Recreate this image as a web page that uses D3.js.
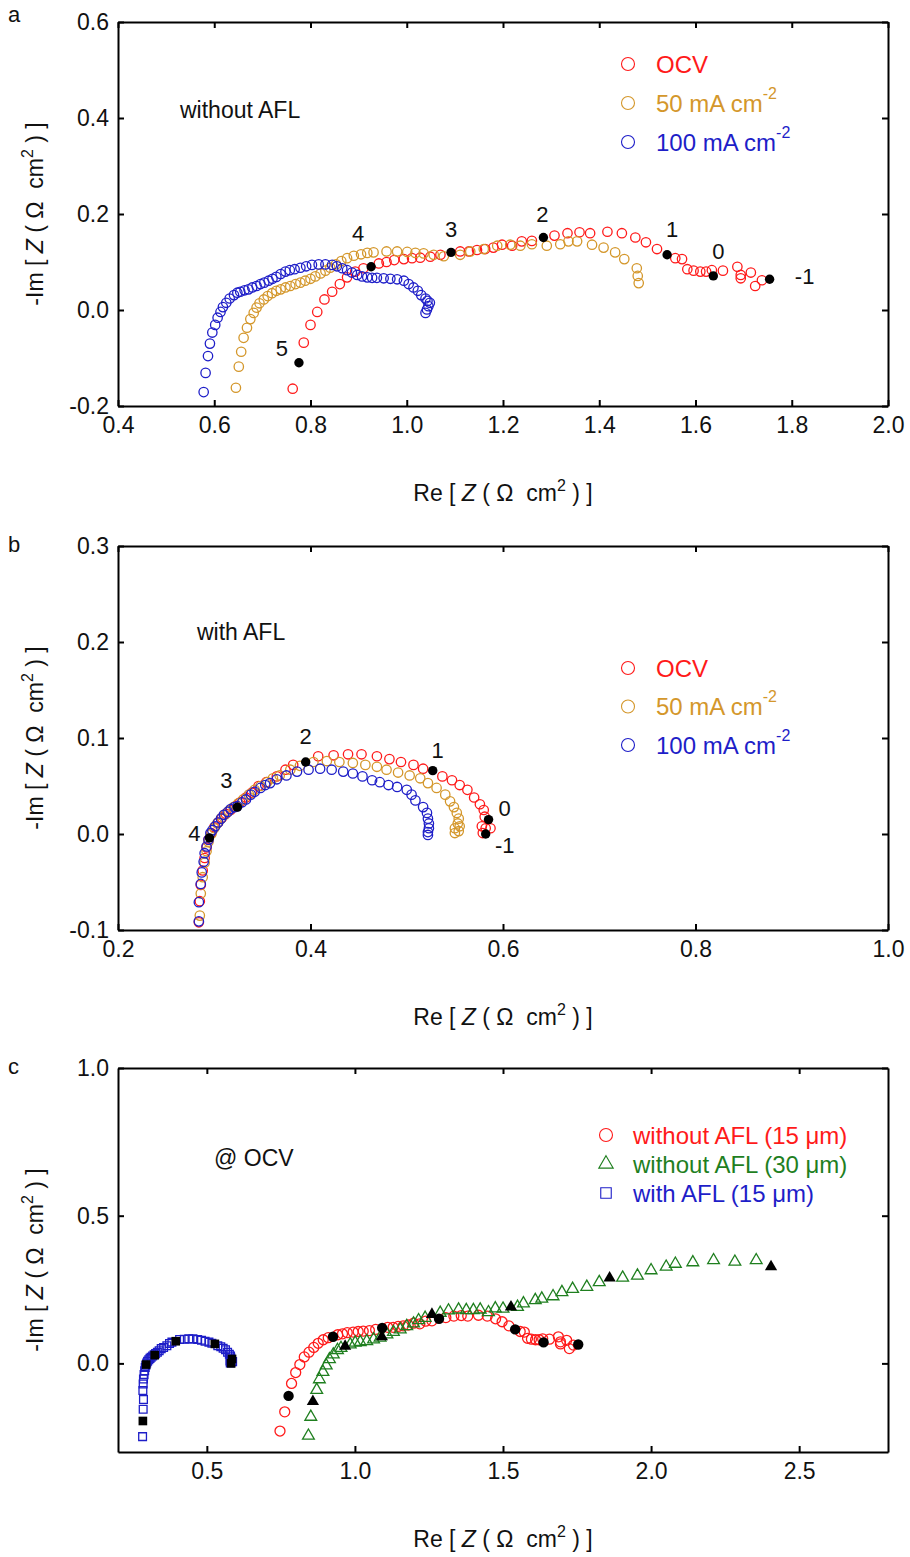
<!DOCTYPE html>
<html>
<head>
<meta charset="utf-8">
<script src="https://cdn.jsdelivr.net/npm/d3@7"></script>
<style>
  body { margin: 0; background: #fff; }
  svg { font-family: "Liberation Sans", Arial, sans-serif; }
  text { white-space: pre; }
</style>
</head>
<body>
<div id="chart"></div>
<script>
// ---- data: [Re Z, -Im Z] in ohm cm2 ----
// without AFL (15 um), OCV
const ocvNoAfl = [[0.747,-0.229],[0.763,-0.164],[0.786,-0.068],[0.800,-0.031],[0.814,-0.004],[0.829,0.022],[0.845,0.038],[0.861,0.054],[0.876,0.068],[0.893,0.080],[0.910,0.087],[0.942,0.097],[0.958,0.100],[0.974,0.104],[0.994,0.106],[1.011,0.108],[1.028,0.109],[1.049,0.111],[1.070,0.115],[1.111,0.122],[1.129,0.122],[1.146,0.125],[1.163,0.127],[1.180,0.130],[1.198,0.136],[1.219,0.134],[1.239,0.143],[1.260,0.144],[1.307,0.155],[1.334,0.160],[1.359,0.162],[1.381,0.160],[1.417,0.163],[1.447,0.160],[1.475,0.151],[1.497,0.141],[1.520,0.127],[1.558,0.108],[1.572,0.106],[1.583,0.085],[1.596,0.082],[1.610,0.080],[1.622,0.080],[1.634,0.083],[1.657,0.082],[1.687,0.090],[1.694,0.073],[1.694,0.066],[1.715,0.078],[1.724,0.050],[1.738,0.062]];
const ma50NoAfl = [[0.645,-0.162],[0.651,-0.118],[0.656,-0.087],[0.661,-0.058],[0.668,-0.037],[0.675,-0.019],[0.682,-0.006],[0.688,0.005],[0.694,0.014],[0.703,0.022],[0.711,0.029],[0.720,0.035],[0.729,0.040],[0.738,0.043],[0.748,0.047],[0.758,0.050],[0.769,0.054],[0.779,0.057],[0.789,0.061],[0.800,0.065],[0.810,0.070],[0.821,0.076],[0.831,0.082],[0.841,0.088],[0.853,0.095],[0.864,0.102],[0.876,0.108],[0.890,0.113],[0.905,0.116],[0.918,0.119],[0.931,0.120],[0.958,0.122],[0.980,0.122],[1.001,0.121],[1.018,0.119],[1.035,0.118],[1.056,0.115],[1.077,0.112],[1.111,0.115],[1.132,0.122],[1.160,0.127],[1.188,0.134],[1.215,0.136],[1.236,0.134],[1.260,0.137],[1.291,0.134],[1.319,0.137],[1.336,0.143],[1.354,0.143],[1.385,0.136],[1.409,0.130],[1.433,0.120],[1.452,0.106],[1.478,0.087],[1.480,0.071],[1.482,0.056]];
const ma100NoAfl = [[0.578,-0.171],[0.582,-0.131],[0.587,-0.096],[0.591,-0.070],[0.596,-0.047],[0.602,-0.031],[0.607,-0.016],[0.613,-0.004],[0.618,0.006],[0.625,0.015],[0.632,0.024],[0.641,0.031],[0.648,0.036],[0.654,0.038],[0.663,0.041],[0.671,0.043],[0.679,0.047],[0.688,0.050],[0.696,0.054],[0.704,0.057],[0.713,0.061],[0.721,0.065],[0.729,0.069],[0.738,0.075],[0.748,0.080],[0.757,0.083],[0.767,0.085],[0.779,0.088],[0.791,0.091],[0.803,0.094],[0.817,0.095],[0.831,0.095],[0.845,0.094],[0.855,0.091],[0.866,0.087],[0.876,0.083],[0.886,0.078],[0.897,0.073],[0.907,0.070],[0.918,0.068],[0.928,0.067],[0.938,0.067],[0.952,0.066],[0.966,0.065],[0.980,0.064],[0.994,0.061],[1.004,0.054],[1.014,0.047],[1.023,0.040],[1.030,0.031],[1.039,0.024],[1.043,0.019],[1.048,0.015],[1.045,0.008],[1.042,0.001],[1.039,-0.006]];
// with AFL (15 um)
const ocvAfl = [[0.283,-0.248],[0.285,-0.155],[0.286,-0.122],[0.284,-0.092],[0.285,-0.070],[0.286,-0.053],[0.288,-0.038],[0.290,-0.025],[0.292,-0.014],[0.294,-0.006],[0.297,0.001],[0.300,0.007],[0.304,0.012],[0.308,0.017],[0.312,0.021],[0.317,0.025],[0.322,0.029],[0.327,0.033],[0.333,0.038],[0.339,0.043],[0.346,0.050],[0.354,0.054],[0.365,0.060],[0.374,0.067],[0.382,0.072],[0.408,0.081],[0.424,0.082],[0.439,0.083],[0.453,0.083],[0.469,0.081],[0.482,0.078],[0.494,0.075],[0.507,0.072],[0.517,0.068],[0.537,0.060],[0.547,0.056],[0.555,0.051],[0.563,0.046],[0.570,0.038],[0.576,0.031],[0.580,0.025],[0.581,0.018],[0.578,0.008],[0.582,0.006],[0.587,0.006],[0.579,0.001]];
const ma50Afl = [[0.285,-0.085],[0.286,-0.062],[0.288,-0.045],[0.290,-0.030],[0.292,-0.018],[0.294,-0.008],[0.297,0.000],[0.300,0.006],[0.303,0.011],[0.307,0.016],[0.311,0.020],[0.315,0.024],[0.320,0.028],[0.325,0.032],[0.330,0.036],[0.336,0.041],[0.342,0.046],[0.348,0.050],[0.355,0.054],[0.361,0.058],[0.368,0.061],[0.379,0.067],[0.389,0.071],[0.403,0.075],[0.417,0.076],[0.430,0.075],[0.444,0.074],[0.457,0.072],[0.469,0.070],[0.479,0.067],[0.491,0.064],[0.503,0.061],[0.514,0.058],[0.522,0.053],[0.531,0.048],[0.540,0.041],[0.545,0.034],[0.549,0.028],[0.552,0.022],[0.554,0.016],[0.553,0.011],[0.555,0.008],[0.550,0.006],[0.554,0.003],[0.550,0.001]];
const ma100Afl = [[0.284,-0.091],[0.284,-0.071],[0.286,-0.052],[0.287,-0.040],[0.289,-0.029],[0.290,-0.020],[0.292,-0.013],[0.294,-0.006],[0.296,0.001],[0.298,0.004],[0.301,0.008],[0.304,0.012],[0.307,0.016],[0.310,0.020],[0.314,0.023],[0.317,0.026],[0.321,0.028],[0.324,0.029],[0.329,0.033],[0.333,0.036],[0.338,0.041],[0.342,0.044],[0.348,0.048],[0.353,0.051],[0.358,0.053],[0.365,0.057],[0.375,0.061],[0.386,0.065],[0.398,0.067],[0.410,0.068],[0.422,0.067],[0.434,0.065],[0.444,0.063],[0.454,0.060],[0.464,0.056],[0.472,0.054],[0.481,0.051],[0.490,0.049],[0.500,0.046],[0.505,0.041],[0.509,0.035],[0.517,0.028],[0.521,0.022],[0.522,0.016],[0.523,0.011],[0.523,0.006],[0.522,0.002],[0.522,-0.001]];
// without AFL (30 um), OCV
const ocvNoAfl30 = [[0.843,-0.245],[0.851,-0.181],[0.871,-0.090],[0.880,-0.054],[0.892,-0.029],[0.903,-0.007],[0.914,0.014],[0.927,0.030],[0.941,0.045],[0.953,0.052],[0.984,0.064],[1.001,0.070],[1.018,0.072],[1.040,0.075],[1.063,0.081],[1.085,0.087],[1.108,0.098],[1.130,0.106],[1.153,0.115],[1.175,0.126],[1.198,0.135],[1.215,0.146],[1.237,0.154],[1.288,0.171],[1.316,0.179],[1.350,0.182],[1.376,0.180],[1.400,0.180],[1.423,0.182],[1.451,0.173],[1.474,0.186],[1.500,0.185],[1.549,0.191],[1.569,0.203],[1.609,0.214],[1.631,0.219],[1.669,0.227],[1.699,0.241],[1.735,0.252],[1.783,0.259],[1.825,0.275],[1.904,0.290],[1.954,0.297],[2.000,0.315],[2.051,0.327],[2.082,0.337],[2.141,0.342],[2.211,0.349],[2.283,0.344],[2.355,0.349]];

// frequency decade points (log f = 5 ... -1), drawn black
const decadeLabels = ["5", "4", "3", "2", "1", "0", "-1"];
const decNoAfl = [[0.776,-0.110],[0.926,0.090],[1.092,0.120],[1.284,0.151],[1.541,0.115],[1.637,0.071],[1.754,0.064]];
const decAfl = [[0.284,-0.195],[0.295,-0.004],[0.324,0.028],[0.395,0.075],[0.527,0.066],[0.585,0.015],[0.582,0.000]];
const decNoAfl30 = [[0.858,-0.129],[0.967,0.058],[1.091,0.090],[1.260,0.166],[1.527,0.191],[1.860,0.289],[2.405,0.327]];

// axis ticks
const xTicksA = [0.4, 0.6, 0.8, 1.0, 1.2, 1.4, 1.6, 1.8, 2.0];
const yTicksA = [-0.2, 0.0, 0.2, 0.4, 0.6];
const xTicksB = [0.2, 0.4, 0.6, 0.8, 1.0];
const yTicksB = [-0.1, 0.0, 0.1, 0.2, 0.3];
const xTicksC = [0.5, 1.0, 1.5, 2.0, 2.5];
const yTicksC = [0.0, 0.5, 1.0];

const RED = "#ff1a1a", ORANGE = "#d4972b", BLUE = "#1e1ec8", GREEN = "#1f7f1f";

const width = 910, height = 1557;
const left = 118, plotW = 770, plotH = 384;

const svg = d3.select("#chart").append("svg")
    .attr("width", width)
    .attr("height", height);

// "Re [ Z ( Ω  cm2 ) ]" with italic Z and superscript 2
function zTitle(sel, prefix) {
    sel.append("tspan").text(prefix + " [ ");
    sel.append("tspan").attr("font-style", "italic").text("Z");
    sel.append("tspan").text(" ( \u03A9  cm");
    sel.append("tspan").attr("font-size", 16).attr("dy", -10).text("2");
    sel.append("tspan").attr("dy", 10).text(" ) ]");
}

const fmt = d => d.toFixed(1);

function drawPanel(p, idx) {
    const g = svg.append("g").attr("transform", "translate(" + left + "," + p.top + ")");
    const x = d3.scaleLinear().domain(p.xDomain).range([0, plotW]);
    const y = d3.scaleLinear().domain(p.yDomain).range([plotH, 0]);

    const clipId = "clip" + idx;
    g.append("clipPath").attr("id", clipId)
        .append("rect").attr("width", plotW).attr("height", plotH);

    // frame with inward ticks on all sides
    const axes = [
        [d3.axisBottom(x).tickValues(p.xTicks).tickFormat(fmt).tickPadding(11), "translate(0," + plotH + ")"],
        [d3.axisLeft(y).tickValues(p.yTicks).tickFormat(fmt).tickPadding(9), null],
        [d3.axisTop(x).tickValues(p.xTicks).tickFormat(""), null],
        [d3.axisRight(y).tickValues(p.yTicks).tickFormat(""), "translate(" + plotW + ",0)"]
    ];
    axes.forEach(([ax, tr]) => {
        const a = g.append("g").call(ax.tickSizeInner(-6).tickSizeOuter(0));
        if (tr) a.attr("transform", tr);
        a.select(".domain").attr("stroke-width", 2);
        a.selectAll(".tick line").attr("stroke-width", 2);
        a.selectAll(".tick text").attr("font-size", 23).attr("fill", "#111")
            .attr("font-family", "\"Liberation Sans\", Arial, sans-serif");
    });

    const plot = g.append("g").attr("clip-path", "url(#" + clipId + ")");

    p.series.forEach(s => {
        if (s.shape === "circle") {
            plot.append("g").selectAll("circle")
                .data(s.data).enter().append("circle")
                .attr("cx", d => x(d[0]))
                .attr("cy", d => y(d[1]))
                .attr("r", s.r)
                .attr("fill", "none")
                .attr("stroke", s.color)
                .attr("stroke-width", 1.3);
        } else {
            const sym = d3.symbol().type(s.shape === "triangle" ? d3.symbolTriangle : d3.symbolSquare).size(s.size);
            plot.append("g").selectAll("path")
                .data(s.data).enter().append("path")
                .attr("d", sym)
                .attr("transform", d => "translate(" + x(d[0]) + "," + y(d[1]) + ")")
                .attr("fill", "none")
                .attr("stroke", s.color)
                .attr("stroke-width", 1.3);
        }
    });

    p.decades.forEach(dset => {
        if (dset.shape === "circle") {
            plot.append("g").selectAll("circle")
                .data(dset.data).enter().append("circle")
                .attr("cx", d => x(d[0]))
                .attr("cy", d => y(d[1]))
                .attr("r", dset.r)
                .attr("fill", "#000");
        } else {
            const sym = d3.symbol().type(dset.shape === "triangle" ? d3.symbolTriangle : d3.symbolSquare).size(dset.size);
            plot.append("g").selectAll("path")
                .data(dset.data).enter().append("path")
                .attr("d", sym)
                .attr("transform", d => "translate(" + x(d[0]) + "," + y(d[1]) + ")")
                .attr("fill", "#000");
        }
        if (dset.labelOffsets) {
            g.append("g").selectAll("text")
                .data(dset.data.map((d, i) => ({d, i})).filter(o => dset.labelOffsets[o.i]))
                .enter().append("text")
                .attr("x", o => x(o.d[0]) + dset.labelOffsets[o.i][0])
                .attr("y", o => y(o.d[1]) + dset.labelOffsets[o.i][1])
                .attr("text-anchor", "middle")
                .attr("dominant-baseline", "central")
                .attr("font-size", 22)
                .attr("fill", "#111")
                .text(o => decadeLabels[o.i]);
        }
    });

    // legend
    const lg = svg.append("g");
    p.legend.items.forEach((it, i) => {
        const cy = p.legend.y0 + i * p.legend.dy;
        if (it.shape === "circle") {
            lg.append("circle").attr("cx", p.legend.sx).attr("cy", cy).attr("r", 6.5)
                .attr("fill", "none").attr("stroke", it.color).attr("stroke-width", 1.1);
        } else {
            lg.append("path")
                .attr("d", d3.symbol().type(it.shape === "triangle" ? d3.symbolTriangle : d3.symbolSquare).size(it.shape === "triangle" ? 90 : 110))
                .attr("transform", "translate(" + p.legend.sx + "," + cy + ")")
                .attr("fill", "none").attr("stroke", it.color).attr("stroke-width", 1.1);
        }
        const t = lg.append("text")
            .attr("x", p.legend.tx).attr("y", cy + p.legend.fs * 0.36)
            .attr("font-size", p.legend.fs).attr("fill", it.color);
        t.append("tspan").text(it.label);
        if (it.sup) {
            t.append("tspan").attr("font-size", 16).attr("dy", -13).text(it.sup);
        }
    });

    // annotation inside plot
    svg.append("text").attr("x", p.note[0]).attr("y", p.note[1])
        .attr("font-size", 23).attr("fill", "#111").text(p.note[2]);

    // panel letter
    svg.append("text").attr("x", 8).attr("y", p.letterY)
        .attr("font-size", 22).attr("fill", "#111").text(p.letter);

    // axis titles
    zTitle(svg.append("text")
        .attr("x", left + plotW / 2).attr("y", p.top + plotH + 95)
        .attr("text-anchor", "middle").attr("font-size", 23).attr("fill", "#111"), "Re");
    zTitle(svg.append("text")
        .attr("transform", "translate(43," + (p.top + plotH / 2) + ") rotate(-90)")
        .attr("text-anchor", "middle").attr("font-size", 23).attr("fill", "#111"), "-Im");
}

const panels = [
    {
        letter: "a", letterY: 22, top: 22,
        xDomain: [0.4, 2.0], yDomain: [-0.2, 0.6], xTicks: xTicksA, yTicks: yTicksA,
        series: [
            {data: ocvNoAfl, color: RED, shape: "circle", r: 4.7},
            {data: ma50NoAfl, color: ORANGE, shape: "circle", r: 4.7},
            {data: ma100NoAfl, color: BLUE, shape: "circle", r: 4.7}
        ],
        decades: [{data: decNoAfl, shape: "circle", r: 4.7,
            labelOffsets: [[-17, -14], [-13, -33], [0, -23], [-1, -23], [5, -25], [5, -24], [35, -3]]}],
        legend: {sx: 628, tx: 656, y0: 64, dy: 39, fs: 24, items: [
            {label: "OCV", color: RED, shape: "circle"},
            {label: "50 mA cm", sup: "-2", color: ORANGE, shape: "circle"},
            {label: "100 mA cm", sup: "-2", color: BLUE, shape: "circle"}
        ]},
        note: [180, 118, "without AFL"]
    },
    {
        letter: "b", letterY: 552, top: 546,
        xDomain: [0.2, 1.0], yDomain: [-0.1, 0.3], xTicks: xTicksB, yTicks: yTicksB,
        series: [
            {data: ocvAfl, color: RED, shape: "circle", r: 4.7},
            {data: ma50Afl, color: ORANGE, shape: "circle", r: 4.7},
            {data: ma100Afl, color: BLUE, shape: "circle", r: 4.7}
        ],
        decades: [{data: decAfl, shape: "circle", r: 4.7,
            labelOffsets: [null, [-15, -4], [-11, -27], [0, -26], [5, -20], [16, -11], [19, 11]]}],
        legend: {sx: 628, tx: 656, y0: 668, dy: 38.5, fs: 24, items: [
            {label: "OCV", color: RED, shape: "circle"},
            {label: "50 mA cm", sup: "-2", color: ORANGE, shape: "circle"},
            {label: "100 mA cm", sup: "-2", color: BLUE, shape: "circle"}
        ]},
        note: [197, 640, "with AFL"]
    },
    {
        letter: "c", letterY: 1074, top: 1068,
        xDomain: [0.2, 2.8], yDomain: [-0.3, 1.0], xTicks: xTicksC, yTicks: yTicksC,
        series: [
            {data: ocvNoAfl, color: RED, shape: "circle", r: 5},
            {data: ocvNoAfl30, color: GREEN, shape: "triangle", size: 60},
            {data: ocvAfl, color: BLUE, shape: "square", size: 60}
        ],
        decades: [
            {data: decNoAfl, shape: "circle", r: 5.2},
            {data: decNoAfl30, shape: "triangle", size: 65},
            {data: decAfl, shape: "square", size: 75}
        ],
        legend: {sx: 606, tx: 633, y0: 1135, dy: 29, fs: 24, items: [
            {label: "without AFL (15 \u03BCm)", color: RED, shape: "circle"},
            {label: "without AFL (30 \u03BCm)", color: GREEN, shape: "triangle"},
            {label: "with AFL (15 \u03BCm)", color: BLUE, shape: "square"}
        ]},
        note: [214, 1166, "@ OCV"]
    }
];

panels.forEach(drawPanel);
</script>
</body>
</html>
